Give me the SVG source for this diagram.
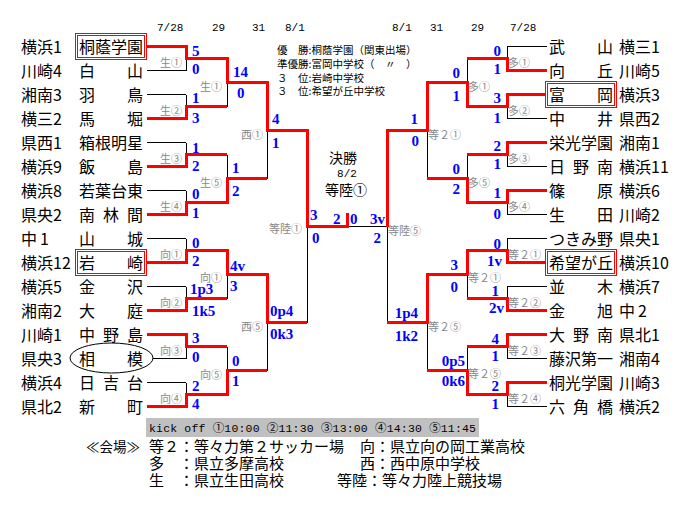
<svg xmlns="http://www.w3.org/2000/svg" width="695" height="509" viewBox="0 0 695 509">
<style>
text{font-family:"Noto Sans CJK JP","Noto Sans CJK SC",sans-serif;}
.nm{font-size:16px;fill:#000;}
.lb{font-size:11px;fill:#888;}
.lbr{font-size:11px;fill:#888;text-anchor:end;}
.sc{font-family:"Liberation Serif",serif;font-weight:bold;font-size:15px;fill:#0000ff;}
.scr{font-family:"Liberation Serif",serif;font-weight:bold;font-size:15px;fill:#0000ff;text-anchor:end;}
.dt{font-family:"Liberation Mono",monospace;font-size:11px;fill:#000;}
.lg{font-size:10.5px;fill:#000;}
.leg{font-size:15px;fill:#000;}
.blk{fill:none;stroke:#000;stroke-width:1;}
.red{fill:none;stroke:#ff0000;stroke-width:3;stroke-linejoin:miter;}
.box{fill:none;stroke:#ff0000;stroke-width:1;}
</style>
<rect width="695" height="509" fill="#fff"/>

<g id="dates">
<text class="dt" x="157" y="31">7/28</text>
<text class="dt" x="212" y="31">29</text>
<text class="dt" x="252" y="31">31</text>
<text class="dt" x="285" y="31">8/1</text>
<text class="dt" x="392" y="31">8/1</text>
<text class="dt" x="430" y="31">31</text>
<text class="dt" x="471" y="31">29</text>
<text class="dt" x="510" y="31">7/28</text>
</g>

<g id="results">
<text class="lg" x="277" y="54">優　勝:桐蔭学園（関東出場）</text>
<text class="lg" x="277" y="67.5">準優勝:富岡中学校（　〃　）</text>
<text class="lg" x="277" y="81.5">３　位:岩崎中学校</text>
<text class="lg" x="277" y="95">３　位:希望が丘中学校</text>
</g>

<g id="final-info" text-anchor="middle">
<text x="343" y="163" font-size="14">決勝</text>
<text class="dt" x="347" y="177" text-anchor="middle">8/2</text>
<text x="346" y="195" font-size="14">等陸①</text>
</g>

<g id="connectors" shape-rendering="crispEdges">
<path class="blk" d="M147 46.5H186M147 70.5H186M147 94.5H186M147 118.5H186M147 142.5H186M147 166.5H186M147 190.5H186M147 214.5H186M147 238.5H186M147 262.5H186M147 286.5H186M147 310.5H186M147 334.5H186M153 358.5H186M147 382.5H186M147 406.5H186
M186 46.5V70.5M186 94.5V118.5M186 142.5V166.5M186 190.5V214.5M186 238.5V262.5M186 286.5V310.5M186 334.5V358.5M186 382.5V406.5
M186 58.5H227M186 106.5H227M186 154.5H227M186 202.5H227M186 250.5H227M186 298.5H227M186 346.5H227M186 394.5H227
M227 58.5V106.5M227 154.5V202.5M227 250.5V298.5M227 346.5V394.5
M227 82.5H267M227 178.5H267M227 274.5H267M227 370.5H267
M267 82.5V178.5M267 274.5V370.5M267 130.5H307M267 322.5H307
M307 130.5V322.5M307 226.5H387
M507 46.5H547M507 70.5H547M507 94.5H545M507 118.5H547M507 142.5H547M507 166.5H547M507 190.5H547M507 214.5H547M507 238.5H547M507 262.5H545M507 286.5H547M507 310.5H547M507 334.5H547M507 358.5H547M507 382.5H547M507 406.5H547
M507 46.5V70.5M507 94.5V118.5M507 142.5V166.5M507 190.5V214.5M507 238.5V262.5M507 286.5V310.5M507 334.5V358.5M507 382.5V406.5
M467 58.5H507M467 106.5H507M467 154.5H507M467 202.5H507M467 250.5H507M467 298.5H507M467 346.5H507M467 394.5H507
M467 58.5V106.5M467 154.5V202.5M467 250.5V298.5M467 346.5V394.5
M427 82.5H467M427 178.5H467M427 274.5H467M427 370.5H467
M427 82.5V178.5M427 274.5V370.5M387 130.5H427M387 322.5H427
M387 130.5V322.5"/>
<path class="red" d="M147 46.5H186V58.5H227V82.5H267V130.5H307V226.5H347V213"/>
<path class="red" d="M147 118.5H186V106.5H227"/>
<path class="red" d="M147 166.5H186V154.5H227"/>
<path class="red" d="M147 214.5H186V202.5H227V178.5H267"/>
<path class="red" d="M147 262.5H186V250.5H227V274.5H267V322.5H307"/>
<path class="red" d="M147 310.5H186V298.5H227"/>
<path class="red" d="M147 334.5H186V346.5H227"/>
<path class="red" d="M147 406.5H186V394.5H227V370.5H267"/>
<path class="red" d="M547 70.5H507V58.5H467"/>
<path class="red" d="M545 94.5H507V106.5H467V82.5H427V130.5H387V226.5"/>
<path class="red" d="M547 142.5H507V154.5H467"/>
<path class="red" d="M547 190.5H507V202.5H467V178.5H427"/>
<path class="red" d="M545 262.5H507V250.5H467V274.5H427V322.5H387"/>
<path class="red" d="M547 310.5H507V298.5H467"/>
<path class="red" d="M547 334.5H507V346.5H467"/>
<path class="red" d="M547 382.5H507V394.5H467V370.5H427"/>
</g>

<g id="venue-labels">
<text class="lbr" x="182" y="66.5">生①</text>
<text class="lbr" x="182" y="114.5">生②</text>
<text class="lbr" x="182" y="162.5">生③</text>
<text class="lbr" x="182" y="210.5">生④</text>
<text class="lbr" x="182" y="258.5">向①</text>
<text class="lbr" x="182" y="306.5">向②</text>
<text class="lbr" x="182" y="354.5">向③</text>
<text class="lbr" x="182" y="402.5">向④</text>
<text class="lbr" x="222" y="90.5">生①</text>
<text class="lbr" x="222" y="186.5">生⑤</text>
<text class="lbr" x="222" y="281.5">向①</text>
<text class="lbr" x="222" y="378.5">向⑤</text>
<text class="lbr" x="263" y="138.5">西①</text>
<text class="lbr" x="263" y="330.5">西⑤</text>
<text class="lbr" x="302" y="232.5">等陸①</text>
<text class="lb" x="508" y="66.5">多①</text>
<text class="lb" x="508" y="114.5">多②</text>
<text class="lb" x="508" y="162.5">多③</text>
<text class="lb" x="508" y="210.5">多④</text>
<text class="lb" x="508" y="258.5">等２①</text>
<text class="lb" x="508" y="306.5">等２②</text>
<text class="lb" x="508" y="354.5">等２③</text>
<text class="lb" x="508" y="402.5">等２④</text>
<text class="lb" x="468" y="90.5">多①</text>
<text class="lb" x="468" y="186.5">多⑤</text>
<text class="lb" x="468" y="281.5">等２①</text>
<text class="lb" x="468" y="377.5">等２⑤</text>
<text class="lb" x="428" y="138.5">等２①</text>
<text class="lb" x="428" y="330.5">等２⑤</text>
<text class="lb" x="388" y="234.5">等陸⑤</text>
</g>

<g id="scores">
<text class="sc" x="192" y="55.5">5</text><text class="sc" x="192" y="73.5">0</text>
<text class="sc" x="192" y="102.5">1</text><text class="sc" x="192" y="122.5">3</text>
<text class="sc" x="192" y="152.5">1</text><text class="sc" x="192" y="170.5">2</text>
<text class="sc" x="192" y="198.5">0</text><text class="sc" x="192" y="217.5">1</text>
<text class="sc" x="192" y="247.5">0</text><text class="sc" x="192" y="265.5">2</text>
<text class="sc" x="190" y="294">1p3</text><text class="sc" x="192" y="315.5">1k5</text>
<text class="sc" x="192" y="342.5">3</text><text class="sc" x="192" y="361.5">0</text>
<text class="sc" x="192" y="390.5">2</text><text class="sc" x="192" y="408.5">4</text>
<text class="sc" x="233" y="76.5">14</text><text class="sc" x="237" y="97.5">0</text>
<text class="sc" x="232" y="172.5">1</text><text class="sc" x="232" y="195.5">2</text>
<text class="sc" x="230" y="270.5">4v</text><text class="sc" x="230" y="290.5">3</text>
<text class="sc" x="232" y="365.5">0</text><text class="sc" x="232" y="385.5">1</text>
<text class="sc" x="272" y="123.5">4</text><text class="sc" x="272" y="147.5">1</text>
<text class="sc" x="270" y="315.5">0p4</text><text class="sc" x="270" y="338.5">0k3</text>
<text class="sc" x="310" y="219.5">3</text><text class="sc" x="312" y="242.5">0</text>
<text class="sc" x="333" y="223.5">2</text><text class="sc" x="350" y="223.5">0</text>
<text class="scr" x="501" y="55.5">0</text><text class="scr" x="501" y="73.5">1</text>
<text class="scr" x="501" y="102.5">3</text><text class="scr" x="501" y="122.5">1</text>
<text class="scr" x="501" y="150.5">2</text><text class="scr" x="501" y="168.5">1</text>
<text class="scr" x="501" y="197.5">1</text><text class="scr" x="501" y="218.5">0</text>
<text class="scr" x="501" y="248.5">0</text><text class="scr" x="502" y="265.5">1v</text>
<text class="scr" x="499" y="296">1</text><text class="scr" x="504" y="312.5">2v</text>
<text class="scr" x="499" y="343.5">4</text><text class="scr" x="499" y="360.5">1</text>
<text class="scr" x="499" y="391">2</text><text class="scr" x="499" y="408.5">1</text>
<text class="scr" x="460" y="77.5">0</text><text class="scr" x="460" y="100.5">1</text>
<text class="scr" x="460" y="173.5">0</text><text class="scr" x="460" y="193.5">2</text>
<text class="scr" x="458" y="269.5">3</text><text class="scr" x="458" y="291.5">0</text>
<text class="scr" x="465" y="365.5">0p5</text><text class="scr" x="465" y="385.5">0k6</text>
<text class="scr" x="418" y="123.5">1</text><text class="scr" x="419" y="145.5">0</text>
<text class="scr" x="418" y="317.5">1p4</text><text class="scr" x="418" y="340.5">1k2</text>
<text class="scr" x="385" y="223.5">3v</text><text class="scr" x="381" y="242.5">2</text>
</g>

<g id="team-L0"><rect class="box" x="75.5" y="33.5" width="71" height="26"/><rect class="box" x="77.5" y="35.5" width="67" height="22"/><text class="nm" x="21" y="52.5">横浜1</text><text class="nm" x="79" y="52.5">桐蔭学園</text></g>
<g id="team-L1"><text class="nm" x="21" y="76.5">川崎4</text><text class="nm" x="79 127" y="76.5">白山</text></g>
<g id="team-L2"><text class="nm" x="21" y="100.5">湘南3</text><text class="nm" x="79 127" y="100.5">羽鳥</text></g>
<g id="team-L3"><text class="nm" x="21" y="124.5">横三2</text><text class="nm" x="79 127" y="124.5">馬堀</text></g>
<g id="team-L4"><text class="nm" x="21" y="148.5">県西1</text><text class="nm" x="79" y="148.5">箱根明星</text></g>
<g id="team-L5"><text class="nm" x="21" y="172.5">横浜9</text><text class="nm" x="79 127" y="172.5">飯島</text></g>
<g id="team-L6"><text class="nm" x="21" y="196.5">横浜8</text><text class="nm" x="79" y="196.5">若葉台東</text></g>
<g id="team-L7"><text class="nm" x="21" y="220.5">県央2</text><text class="nm" x="79 103 127" y="220.5">南林間</text></g>
<g id="team-L8"><text class="nm" x="21" y="244.5">中<tspan dx="3">1</tspan></text><text class="nm" x="79 127" y="244.5">山城</text></g>
<g id="team-L9"><rect class="box" x="75.5" y="249.5" width="71" height="26"/><rect class="box" x="77.5" y="251.5" width="67" height="22"/><text class="nm" x="21" y="268.5">横浜12</text><text class="nm" x="79 127" y="268.5">岩崎</text></g>
<g id="team-L10"><text class="nm" x="21" y="292.5">横浜5</text><text class="nm" x="79 127" y="292.5">金沢</text></g>
<g id="team-L11"><text class="nm" x="21" y="316.5">湘南2</text><text class="nm" x="79 127" y="316.5">大庭</text></g>
<g id="team-L12"><text class="nm" x="21" y="340.5">川崎1</text><text class="nm" x="79 103 127" y="340.5">中野島</text></g>
<g id="team-L13"><ellipse cx="111.5" cy="358" rx="41.5" ry="15" fill="none" stroke="#000" stroke-width="1"/><text class="nm" x="21" y="364.5">県央3</text><text class="nm" x="79 127" y="364.5">相模</text></g>
<g id="team-L14"><text class="nm" x="21" y="388.5">横浜4</text><text class="nm" x="79 103 127" y="388.5">日吉台</text></g>
<g id="team-L15"><text class="nm" x="21" y="412.5">県北2</text><text class="nm" x="79 127" y="412.5">新町</text></g>

<g id="team-R0"><text class="nm" x="549 597" y="52.5">武山</text><text class="nm" x="619" y="52.5">横三1</text></g>
<g id="team-R1"><text class="nm" x="549 597" y="76.5">向丘</text><text class="nm" x="619" y="76.5">川崎5</text></g>
<g id="team-R2"><rect class="box" x="545.5" y="81.5" width="71" height="26"/><rect class="box" x="547.5" y="83.5" width="67" height="22"/><text class="nm" x="549 597" y="100.5">富岡</text><text class="nm" x="619" y="100.5">横浜3</text></g>
<g id="team-R3"><text class="nm" x="549 597" y="124.5">中井</text><text class="nm" x="619" y="124.5">県西2</text></g>
<g id="team-R4"><text class="nm" x="549" y="148.5">栄光学園</text><text class="nm" x="619" y="148.5">湘南1</text></g>
<g id="team-R5"><text class="nm" x="549 573 597" y="172.5">日野南</text><text class="nm" x="619" y="172.5">横浜11</text></g>
<g id="team-R6"><text class="nm" x="549 597" y="196.5">篠原</text><text class="nm" x="619" y="196.5">横浜6</text></g>
<g id="team-R7"><text class="nm" x="549 597" y="220.5">生田</text><text class="nm" x="619" y="220.5">川崎2</text></g>
<g id="team-R8"><text class="nm" x="549" y="244.5">つきみ野</text><text class="nm" x="619" y="244.5">県央1</text></g>
<g id="team-R9"><rect class="box" x="545.5" y="249.5" width="71" height="26"/><rect class="box" x="547.5" y="251.5" width="67" height="22"/><text class="nm" x="549" y="268.5">希望が丘</text><text class="nm" x="619" y="268.5">横浜10</text></g>
<g id="team-R10"><text class="nm" x="549 597" y="292.5">並木</text><text class="nm" x="619" y="292.5">横浜7</text></g>
<g id="team-R11"><text class="nm" x="549 597" y="316.5">金旭</text><text class="nm" x="619" y="316.5">中<tspan dx="3">2</tspan></text></g>
<g id="team-R12"><text class="nm" x="549 573 597" y="340.5">大野南</text><text class="nm" x="619" y="340.5">県北1</text></g>
<g id="team-R13"><text class="nm" x="549" y="364.5">藤沢第一</text><text class="nm" x="619" y="364.5">湘南4</text></g>
<g id="team-R14"><text class="nm" x="549" y="388.5">桐光学園</text><text class="nm" x="619" y="388.5">川崎3</text></g>
<g id="team-R15"><text class="nm" x="549 573 597" y="412.5">六角橋</text><text class="nm" x="619" y="412.5">横浜2</text></g>

<g id="legend">
<rect x="146" y="418" width="333" height="19" fill="#c0c0c0"/>
<text x="149" y="431.5" style="font-family:'Liberation Mono','Noto Sans CJK JP',monospace;font-size:11.5px" textLength="327" lengthAdjust="spacing">kick off ①10:00 ②11:30 ③13:00 ④14:30 ⑤11:45</text>
<text class="leg" x="86" y="451.5" style="font-size:14px" textLength="54" lengthAdjust="spacingAndGlyphs">≪会場≫</text>
<text class="leg" x="149" y="451.5">等２：等々力第２サッカー場</text>
<text class="leg" x="360" y="451.5">向：県立向の岡工業高校</text>
<text class="leg" x="149" y="468.5">多　：県立多摩高校</text>
<text class="leg" x="360" y="468.5">西：西中原中学校</text>
<text class="leg" x="149" y="485.5">生　：県立生田高校</text>
<text class="leg" x="337" y="485.5">等陸：等々力陸上競技場</text>
</g>
</svg>
